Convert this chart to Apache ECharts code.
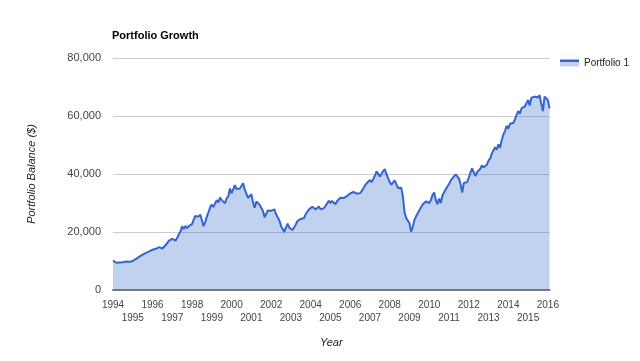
<!DOCTYPE html>
<html>
<head>
<meta charset="utf-8">
<script src="https://cdn.jsdelivr.net/npm/echarts@6/dist/echarts.min.js"></script>
<style>
html,body{margin:0;padding:0;background:#fff;}
#chart{width:640px;height:361px;}
</style>
</head>
<body>
<div id="chart"></div>
<script>
// Data (monthly portfolio balance, Jan 1994 - Feb 2016)
const startYear = 1994;
const seriesName = 'Portfolio 1';
const balance = [
  10100, 9700, 9400, 9400, 9500, 9300, 9600, 10000, 9800, 10000, 9700, 9800,       // 1994
  10000, 10400, 10700, 11000, 11500, 11800, 12200, 12400, 12800, 12800, 13300, 13500, // 1995
  13900, 14000, 14200, 14400, 14800, 14900, 14300, 14700, 15500, 15900, 17000, 16700, // 1996
  17600, 17700, 17000, 18000, 19300, 20200, 22000, 21000, 22100, 21300, 22000, 22400, // 1997
  22700, 24300, 25500, 25700, 25300, 26000, 25600, 22000, 23500, 25400, 26900, 28500, // 1998
  29500, 28600, 29900, 31000, 30200, 31900, 31000, 30700, 29900, 31600, 32300, 35000, // 1999
  33300, 33600, 36200, 34800, 34300, 35000, 34500, 36800, 34600, 34300, 31800, 32000, // 2000
  33000, 30200, 28400, 30500, 30400, 29400, 29100, 27300, 25100, 25600, 27400, 27700, // 2001
  27300, 26800, 27800, 26100, 25800, 24000, 22100, 22300, 20000, 21600, 22900, 21500, // 2002
  21000, 20700, 20900, 22600, 23800, 24100, 24500, 25000, 24800, 26200, 26400, 27800, // 2003
  28300, 28700, 28200, 27800, 28200, 28800, 27800, 27900, 28200, 28600, 29800, 30800, // 2004
  30000, 30700, 30200, 29600, 30600, 30700, 31800, 31500, 31700, 31200, 32400, 32400, // 2005
  33300, 33400, 33800, 34200, 33200, 33200, 33400, 34100, 35000, 36100, 36800, 37300, // 2006
  37900, 37200, 37700, 39400, 40900, 40300, 39100, 39700, 41000, 41700, 40000, 39600, // 2007
  37200, 36300, 36000, 37800, 38300, 35200, 34900, 35300, 32200, 26800, 24800, 25100, // 2008
  23000, 20100, 21800, 24100, 25400, 25600, 27500, 28500, 29500, 29000, 30600, 31200, // 2009
  30000, 31000, 32800, 33600, 31000, 29600, 31500, 30000, 32600, 33700, 33600, 35700, // 2010
  36500, 37700, 37900, 39200, 39900, 39200, 38500, 36500, 33600, 36900, 36700, 37200, // 2011
  38800, 40500, 41900, 41500, 39300, 40600, 41100, 41800, 43000, 42300, 42600, 43200, // 2012
  44600, 45400, 47100, 48200, 49200, 48400, 50200, 49000, 51700, 53600, 54900, 56600, // 2013
  55600, 57300, 57600, 57600, 58800, 60400, 61700, 60800, 62600, 62100, 63300, 63900, // 2014
  65500, 63600, 66300, 65900, 66700, 66100, 66400, 67200, 64200, 61700, 66700, 66300, // 2015
  65500, 62600                                                                       // 2016
];
const yTicks = [0, 20000, 40000, 60000, 80000];
const xTickYears = [1994,1995,1996,1997,1998,1999,2000,2001,2002,2003,2004,2005,2006,2007,2008,2009,2010,2011,2012,2013,2014,2015,2016];

const points = balance.map((v, i) => [startYear + i / 12, v]);
const xMax = startYear + (balance.length - 1) / 12;

const FONT = '"Liberation Sans", Arial, sans-serif';

function yearLabel(parity) {
  return function (v) {
    const y = Math.round(v);
    if (Math.abs(v - y) > 1e-6 || xTickYears.indexOf(y) < 0) return '';
    return (Math.abs(y % 2) === parity) ? String(y) : '';
  };
}

function makeXAxis(parity, margin, showLine, withName) {
  const ax = {
    type: 'value',
    min: startYear, max: xMax, interval: 1,
    position: 'bottom',
    axisLine: {show: showLine, onZero: false, lineStyle: {color: '#777', width: 2}},
    axisTick: {show: false},
    splitLine: {show: false},
    axisLabel: {
      margin: margin, fontFamily: FONT, fontSize: 10, color: '#444',
      showMinLabel: true, showMaxLabel: true, hideOverlap: false,
      formatter: yearLabel(parity)
    },
    z: 5
  };
  if (withName) {
    ax.name = 'Year';
    ax.nameLocation = 'middle';
    ax.nameGap = 47;
    ax.nameTextStyle = {fontFamily: FONT, fontSize: 11, fontStyle: 'italic', color: '#222'};
  }
  return ax;
}

const chart = echarts.init(document.getElementById('chart'), null, {renderer: 'canvas'});
chart.setOption({
  animation: false,
  backgroundColor: '#ffffff',
  title: {
    text: 'Portfolio Growth',
    left: 112, top: 30,
    padding: 0,
    textStyle: {fontFamily: FONT, fontSize: 11, fontWeight: 'bold', color: '#000'}
  },
  legend: {
    data: [seriesName],
    left: 560, top: 58,
    padding: 0,
    icon: 'rect',
    itemWidth: 19, itemHeight: 7, itemGap: 5,
    itemStyle: {
      borderWidth: 0,
      color: {type: 'linear', x: 0, y: 0, x2: 0, y2: 1, colorStops: [
        {offset: 0, color: '#3366cc'}, {offset: 0.3, color: '#3366cc'},
        {offset: 0.3, color: '#c2d1f0'}, {offset: 1, color: '#c2d1f0'}]}
    },
    textStyle: {fontFamily: FONT, fontSize: 10, color: '#222', padding: [0,0,0,0]}
  },
  grid: {left: 113, right: 90.5, top: 58, bottom: 71, containLabel: false},
  xAxis: [
    makeXAxis(0, 10, true, true),
    makeXAxis(1, 23, false, false)
  ],
  yAxis: {
    type: 'value',
    min: yTicks[0], max: yTicks[yTicks.length - 1], interval: yTicks[1] - yTicks[0],
    name: 'Portfolio Balance ($)', nameLocation: 'middle', nameGap: 76,
    nameTextStyle: {fontFamily: FONT, fontSize: 11, fontStyle: 'italic', color: '#222'},
    axisLine: {show: false},
    axisTick: {show: false},
    splitLine: {show: true, lineStyle: {color: '#cccccc', width: 1}},
    axisLabel: {
      margin: 12, fontFamily: FONT, fontSize: 11, color: '#444',
      formatter: v => v.toLocaleString('en-US')
    }
  },
  series: [{
    name: seriesName,
    type: 'line',
    xAxisIndex: 0,
    data: points,
    showSymbol: false,
    symbol: 'none',
    lineStyle: {color: '#3366cc', width: 2},
    itemStyle: {color: '#3366cc'},
    areaStyle: {color: '#3366cc', opacity: 0.3}
  }]
});
</script>
</body>
</html>
